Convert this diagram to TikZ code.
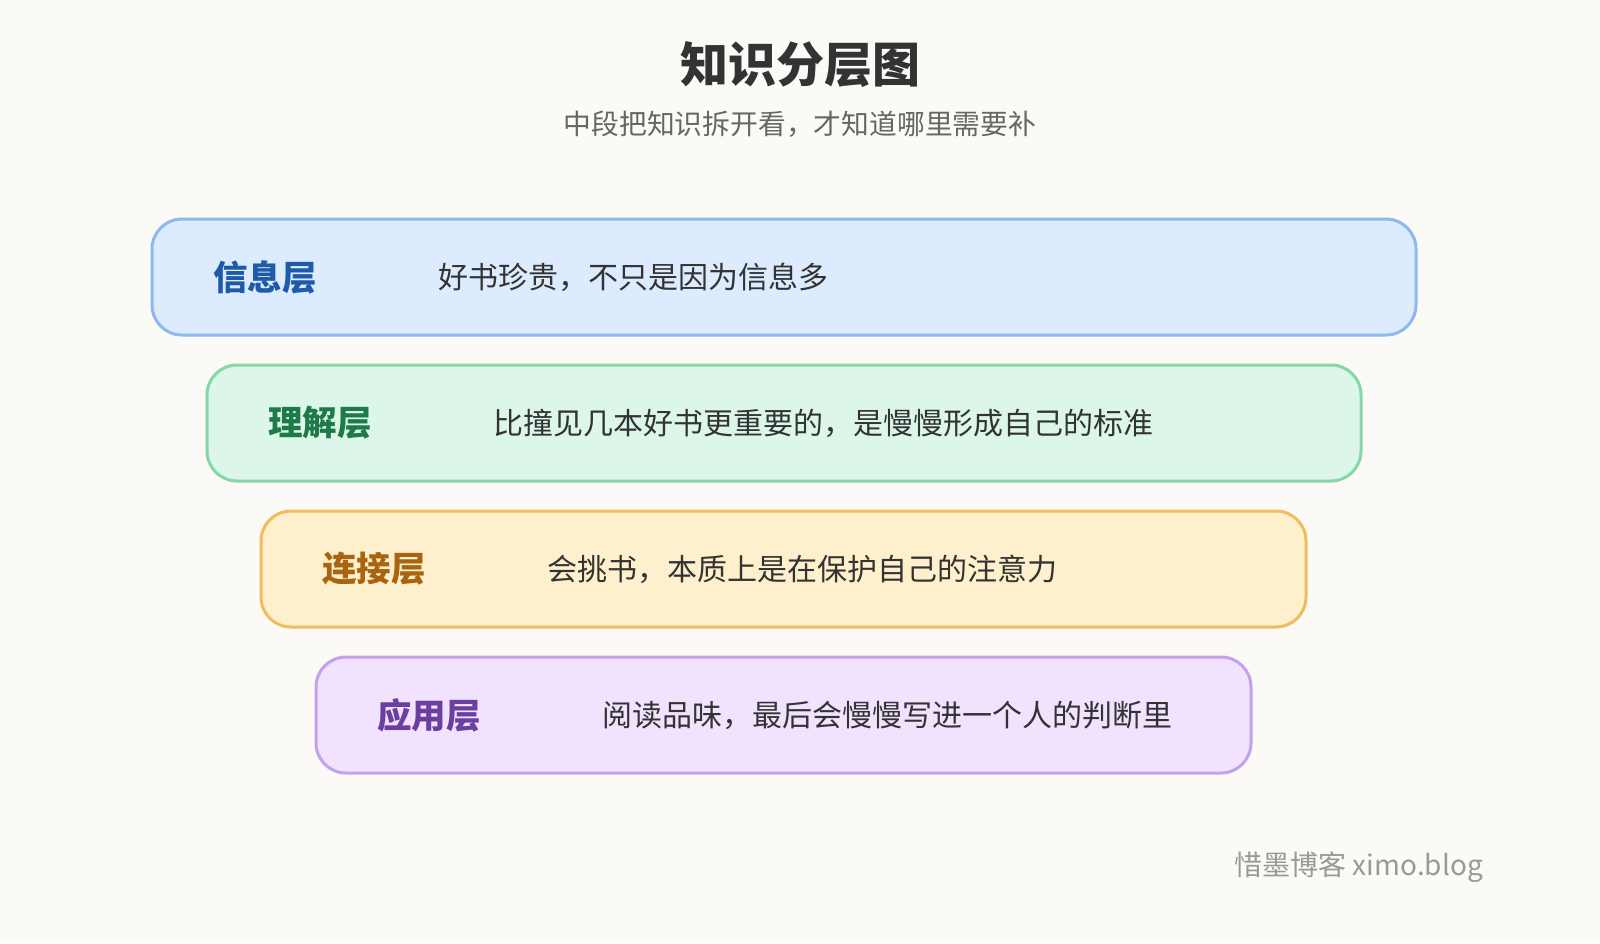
\documentclass[tikz,border=0pt]{standalone}
\usepackage{fontspec}
\setmainfont{Noto Sans CJK SC}
\definecolor{bg}{HTML}{FBFAF6}
\definecolor{txt}{HTML}{333333}
\definecolor{sub}{HTML}{666666}
\definecolor{fA}{HTML}{DCEBFE}\definecolor{dA}{HTML}{8DB9EE}\definecolor{lA}{HTML}{1E5AA8}
\definecolor{fB}{HTML}{DCF7E9}\definecolor{dB}{HTML}{86D6A8}\definecolor{lB}{HTML}{1F7A4A}
\definecolor{fC}{HTML}{FEF0CC}\definecolor{dC}{HTML}{F0BC5E}\definecolor{lC}{HTML}{A86410}
\definecolor{fD}{HTML}{F1E2FE}\definecolor{dD}{HTML}{C4A1EC}\definecolor{lD}{HTML}{6B3FA0}
\begin{document}
\begin{tikzpicture}[x=1pt,y=-1pt,
  layer/.style={rounded corners=30pt,line width=3pt},
  lab/.style={anchor=west,inner sep=0pt,font=\fontsize{34.5}{38}\selectfont\bfseries},
  desc/.style={anchor=west,inner sep=0pt,text=txt,font=\fontsize{30}{34}\selectfont}]
\fill[bg] (0,0) rectangle (1600,943);
\useasboundingbox (0,0) rectangle (1600,943);
\node (title) at (800,65) {\fontsize{48}{54}\selectfont\bfseries\color{txt}知识分层图};
\node (subtitle) at (800,124) {\fontsize{27.8}{32}\selectfont\color{sub}中段把知识拆开看，才知道哪里需要补};
\draw[layer,fill=fA,draw=dA] (152,219) rectangle (1416,335);
\node[lab,text=lA] (l1) at (213,277) {信息层};
\node[desc] (d1) at (438,277) {好书珍贵，不只是因为信息多};
\draw[layer,fill=fB,draw=dB] (207,365) rectangle (1361,481);
\node[lab,text=lB] (l2) at (268,423) {理解层};
\node[desc] (d2) at (493,423) {比撞见几本好书更重要的，是慢慢形成自己的标准};
\draw[layer,fill=fC,draw=dC] (261,511) rectangle (1306,627);
\node[lab,text=lC] (l3) at (322,569) {连接层};
\node[desc] (d3) at (547,569) {会挑书，本质上是在保护自己的注意力};
\draw[layer,fill=fD,draw=dD] (316,657) rectangle (1251,773);
\node[lab,text=lD] (l4) at (377,715) {应用层};
\node[desc] (d4) at (602,715) {阅读品味，最后会慢慢写进一个人的判断里};
\node[anchor=east,inner sep=0pt,text=gray!80,font=\fontsize{28}{32}\selectfont] (foot) at (1483,867) {惜墨博客 ximo.blog};
\end{tikzpicture}
\end{document}
